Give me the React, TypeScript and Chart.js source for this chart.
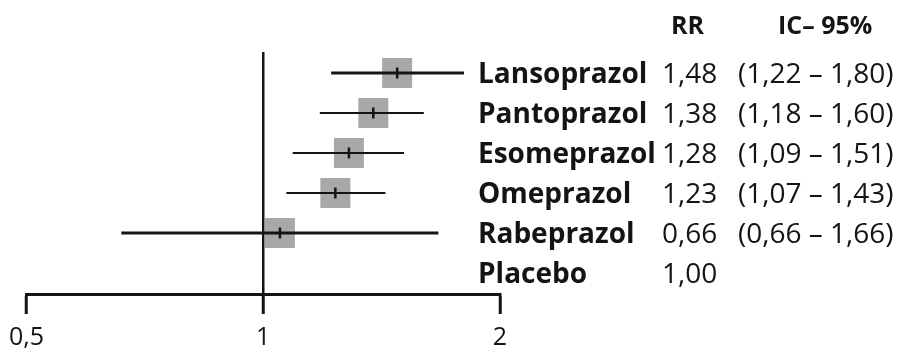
import React, { useEffect, useRef } from 'react';
import { Chart, registerables } from 'chart.js';

Chart.register(...registerables);

// ---- data ----
const drugs = ['Lansoprazol', 'Pantoprazol', 'Esomeprazol', 'Omeprazol', 'Rabeprazol', 'Placebo'];
const rrLabels = ['1,48', '1,38', '1,28', '1,23', '0,66', '1,00'];
const ciLabels = ['(1,22 – 1,80)', '(1,18 – 1,60)', '(1,09 – 1,51)', '(1,07 – 1,43)', '(0,66 – 1,66)', ''];
const pointEstimates: (number | null)[] = [1.48, 1.38, 1.285, 1.235, 1.05, null];
const ciLower: (number | null)[] = [1.22, 1.18, 1.09, 1.07, 0.66, null];
const ciUpper: (number | null)[] = [1.8, 1.6, 1.51, 1.43, 1.67, null];
const ciLineWidths = [3, 2, 2, 2, 3, 0];
const xTicks = [0.5, 1, 2];
const xTickLabels = ['0,5', '1', '2'];
const headers = ['RR', 'IC– 95%'];

const INK = '#141414';
const FONT = '"Open Sans", "Noto Sans", sans-serif';

const textPlugin = {
  id: 'forestText',
  afterDraw(chart: any) {
    const { ctx } = chart;
    const y = chart.scales.y;
    ctx.save();
    ctx.fillStyle = INK;
    ctx.textBaseline = 'alphabetic';
    ctx.textAlign = 'left';
    // header
    const hy = y.getPixelForValue(-1.2) + 9;
    ctx.font = `bold 25px ${FONT}`;
    ctx.fillText(headers[0], 671, hy);
    ctx.fillText(headers[1], 778, hy);
    drugs.forEach((name, i) => {
      const py = y.getPixelForValue(i) + 10;
      ctx.font = `bold 28px ${FONT}`;
      ctx.fillText(name, 478, py);
      ctx.font = `28px ${FONT}`;
      ctx.fillText(rrLabels[i], 662, py);
      if (ciLabels[i]) ctx.fillText(ciLabels[i], 738, py);
    });
    ctx.restore();
  },
};

export default function App() {
  const ref = useRef<HTMLCanvasElement | null>(null);

  useEffect(() => {
    if (!ref.current) return;
    const rows = drugs.map((_, i) => i).filter((i) => pointEstimates[i] != null);

    const ciDatasets = rows.map((i) => ({
      type: 'line' as const,
      label: drugs[i] + ' IC',
      data: [
        { x: ciLower[i] as number, y: i },
        { x: ciUpper[i] as number, y: i },
      ],
      borderColor: INK,
      borderWidth: ciLineWidths[i],
      pointRadius: 0,
      fill: false,
      order: 2,
    }));

    const chart = new Chart(ref.current, {
      type: 'scatter',
      data: {
        datasets: [
          {
            label: 'RR box',
            data: rows.map((i) => ({ x: pointEstimates[i] as number, y: i })),
            pointStyle: 'rect',
            pointRadius: 21.2,
            backgroundColor: '#a8a8a8',
            borderWidth: 0,
            order: 3,
          } as any,
          ...ciDatasets,
          {
            label: 'RR mark',
            data: rows.map((i) => ({ x: pointEstimates[i] as number, y: i })),
            pointStyle: 'line',
            rotation: 90,
            pointRadius: 5.5,
            borderColor: INK,
            borderWidth: 2.5,
            order: 1,
          } as any,
        ],
      },
      options: {
        animation: false,
        responsive: false,
        devicePixelRatio: 1,
        layout: { padding: { left: 25, right: 399, top: 52, bottom: 0 } },
        plugins: { legend: { display: false }, tooltip: { enabled: false } },
        scales: {
          x: {
            type: 'logarithmic',
            min: 0.5,
            max: 2,
            afterBuildTicks: (axis: any) => {
              axis.ticks = xTicks.map((v) => ({ value: v }));
            },
            afterFit: (axis: any) => {
              axis.height = 59;
            },
            ticks: {
              autoSkip: false,
              maxRotation: 0,
              padding: 9,
              color: INK,
              font: { family: FONT, size: 25 },
              callback: (_v: any, idx: number) => xTickLabels[idx],
            },
            grid: {
              drawOnChartArea: true,
              color: (c: any) => (c.tick && c.tick.value === 1 ? INK : 'rgba(0,0,0,0)'),
              lineWidth: 2.5,
              tickColor: INK,
              tickWidth: 3,
              tickLength: 20,
            },
            border: { display: true, color: INK, width: 3 },
          },
          y: {
            type: 'linear',
            reverse: true,
            min: -0.525,
            max: 5.525,
            display: false,
          },
        },
      } as any,
      plugins: [textPlugin],
    });
    return () => chart.destroy();
  }, []);

  return (
    <div style={{ position: 'absolute', left: 0, top: 0, width: 899, height: 353, background: '#fff' }}>
      <canvas ref={ref} width={899} height={353} />
    </div>
  );
}
